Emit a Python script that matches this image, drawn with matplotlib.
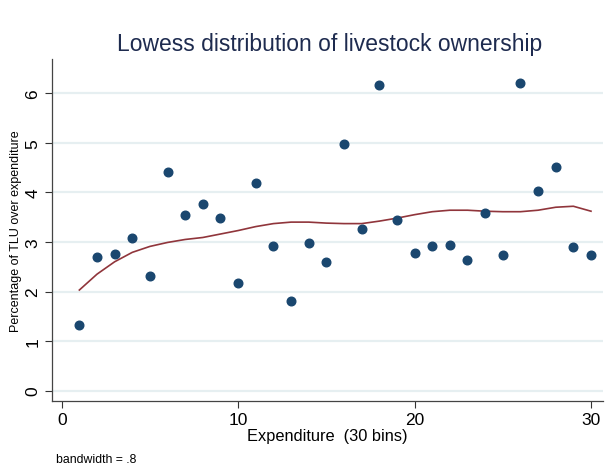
import matplotlib
matplotlib.use("Agg")
import matplotlib.pyplot as plt

bins = list(range(1, 31))
pct_tlu = [1.33, 2.70, 2.76, 3.08, 2.31, 4.41, 3.54, 3.77, 3.48, 2.17,
           4.18, 2.91, 1.80, 2.97, 2.60, 4.98, 3.26, 6.17, 3.44, 2.77,
           2.92, 2.93, 2.63, 3.58, 2.74, 6.21, 4.03, 4.52, 2.89, 2.73]
lowess = [2.03, 2.35, 2.60, 2.79, 2.91, 2.99, 3.05, 3.09, 3.16, 3.23,
          3.31, 3.37, 3.40, 3.40, 3.38, 3.37, 3.37, 3.42, 3.48, 3.55,
          3.61, 3.64, 3.64, 3.62, 3.61, 3.61, 3.64, 3.70, 3.72, 3.62]
xticks = [0, 10, 20, 30]
yticks = [0, 1, 2, 3, 4, 5, 6]

plt.rcParams['font.family'] = ['Liberation Sans', 'DejaVu Sans']

W, H = 605, 477
fig = plt.figure(figsize=(W/100, H/100), dpi=100)
ax = fig.add_axes([51.7/W, 1-401.7/H, (603-51.7)/W, (401.7-60)/H])

for y in yticks:
    ax.axhline(y, color='#e6eff1', lw=1.6, zorder=0)

ax.plot(bins, pct_tlu, 'o', color='#1a476f', ms=6.2, mec='#1a476f', zorder=3, clip_on=False)
ax.plot(bins, lowess, '-', color='#90353b', lw=1.2, zorder=2)

ax.set_xlim(-0.567, 30.68)
ax.set_ylim(-0.202, 6.69)
ax.set_xticks(xticks)
ax.set_yticks(yticks)
ax.set_xticklabels([str(t) for t in xticks], fontsize=12.5)
ax.set_yticklabels([str(t) for t in yticks], fontsize=12.5, rotation=90, va='center')
ax.tick_params(axis='both', direction='out', length=5, width=0.8, color='#333333', labelcolor='black')
ax.tick_params(axis='x', pad=3)
ax.tick_params(axis='y', pad=3)
for s in ['top', 'right']:
    ax.spines[s].set_visible(False)
for s in ['left', 'bottom']:
    ax.spines[s].set_color('#444444')
    ax.spines[s].set_linewidth(0.9)

fig.text(16/W, 1-(401.7+60)/2/H - 0.0, 'Percentage of TLU over expenditure', rotation=90,
         ha='center', va='center', fontsize=9)
fig.text(327/W, 1-437/H, 'Expenditure  (30 bins)', ha='center', va='center', fontsize=11.8)
fig.text(56/W, 1-460/H, 'bandwidth = .8', ha='left', va='center', fontsize=8.8)
fig.text(330/W, 1-45/H, 'Lowess distribution of livestock ownership', ha='center', va='center',
         fontsize=16.5, color='#1e2b4f')

fig.savefig('out.png', dpi=100, facecolor='white')
